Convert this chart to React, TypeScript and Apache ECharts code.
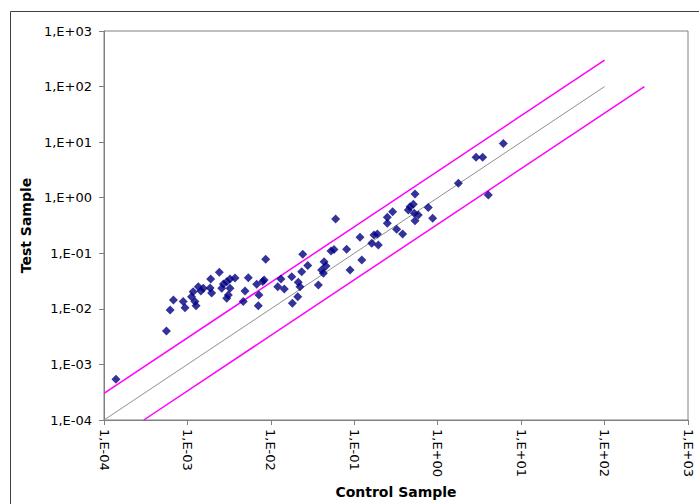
import React, { useEffect, useRef } from "react";
import * as echarts from "echarts";

// Scatter points: [Control Sample, Test Sample]
const controlValues: number[] = [
  1.39e-4, 5.6e-4, 6.2e-4, 6.8e-4, 8.9e-4, 9.35e-4, 1.12e-3, 1.17e-3, 1.23e-3, 1.27e-3,
  1.35e-3, 1.55e-3, 1.87e-3, 1.9e-3, 1.95e-3, 2.41e-3, 2.58e-3, 2.96e-3, 2.96e-3, 3.09e-3,
  3.24e-3, 3.24e-3, 4.67e-3, 4.9e-3, 5.37e-3, 3.72e-3, 6.76e-3, 7.2e-3, 7.07e-3, 8.3e-3,
  8.67e-3, 1.21e-2, 1.32e-2, 1.45e-2, 1.78e-2, 1.81e-2, 2.1e-2, 2.13e-2, 2.23e-2, 2.34e-2,
  2.41e-2, 2.77e-2, 3.71e-2, 4.34e-2, 4.58e-2, 4.06e-2, 4.26e-2, 5.98e-2, 5.26e-2, 5.71e-2,
  8.1e-2, 8.9e-2, 0.117, 0.123, 0.162, 0.194, 0.172, 0.189, 0.249, 0.249,
  0.288, 0.322, 0.38, 0.444, 0.466, 0.51, 0.523, 0.534, 0.585, 0.534,
  0.77, 0.87, 1.77, 2.88, 3.46, 4.04, 6.11, 2.7e-3, 8.0e-3, 1.45e-3,
];
const testValues: number[] = [
  5.4e-4, 4.0e-3, 9.5e-3, 1.44e-2, 1.35e-2, 1.05e-2, 1.66e-2, 2.04e-2, 1.35e-2, 1.14e-2,
  2.5e-2, 2.34e-2, 2.37e-2, 3.44e-2, 1.93e-2, 4.55e-2, 2.34e-2, 3.08e-2, 1.55e-2, 1.77e-2,
  3.44e-2, 2.34e-2, 1.35e-2, 2.1e-2, 3.64e-2, 3.59e-2, 2.77e-2, 1.77e-2, 1.14e-2, 3.3e-2,
  7.8e-2, 2.5e-2, 3.44e-2, 2.28e-2, 3.8e-2, 1.26e-2, 1.66e-2, 3.0e-2, 2.5e-2, 4.67e-2,
  9.6e-2, 6.0e-2, 2.69e-2, 7.05e-2, 5.9e-2, 5.0e-2, 4.37e-2, 0.414, 0.11, 0.117,
  0.118, 5.0e-2, 0.194, 7.6e-2, 0.151, 0.141, 0.213, 0.222, 0.444, 0.346,
  0.56, 0.27, 0.222, 0.6, 0.69, 0.76, 0.523, 1.17, 0.489, 0.385,
  0.67, 0.426, 1.82, 5.33, 5.33, 1.12, 9.5, 2.8e-2, 3.1e-2, 2.1e-2,
];

// Reference lines: y = x, y = 3x, y = x/3
const identityLine: number[][] = [[1e-4, 1e-4], [1e2, 1e2]];
const upperLine: number[][] = [[1e-4, 3e-4], [1e2, 3e2]];
const lowerLine: number[][] = [[3e-4, 1e-4], [3e2, 1e2]];

const axisMin = 1e-4;
const axisMax = 1e3;

const fmt = (v: number) => {
  const e = Math.round(Math.log10(v));
  return "1,E" + (e < 0 ? "-" : "+") + String(Math.abs(e)).padStart(2, "0");
};

export default function App() {
  const ref = useRef<HTMLDivElement>(null);
  useEffect(() => {
    if (!ref.current) return;
    const chart = echarts.init(ref.current, null, { renderer: "svg" });
    const points = controlValues.map((c, i) => [c, testValues[i]]);
    const labelStyle = {
      color: "#000",
      fontFamily: "DejaVu Sans",
      fontSize: 13,
      formatter: fmt,
    };
    chart.setOption({
      animation: false,
      backgroundColor: "#fff",
      grid: {
        left: 104,
        top: 31,
        right: 11,
        bottom: 84,
        show: true,
        borderColor: "#808080",
        borderWidth: 1,
        backgroundColor: "transparent",
      },
      graphic: [
        {
          type: "rect",
          shape: { x: 10.5, y: 11.5, width: 720, height: 520 },
          style: { fill: "none", stroke: "#404040", lineWidth: 1 },
          silent: true,
        },
      ],
      xAxis: {
        type: "log",
        logBase: 10,
        min: axisMin,
        max: axisMax,
        interval: 1,
        name: "Control Sample",
        nameLocation: "middle",
        nameGap: 58,
        nameTextStyle: { fontFamily: "DejaVu Sans", fontWeight: "bold", fontSize: 14, color: "#000" },
        axisLine: { show: true, lineStyle: { color: "#808080", width: 1 } },
        axisTick: { show: true, length: 5, lineStyle: { color: "#808080" } },
        minorTick: { show: false },
        splitLine: { show: false },
        axisLabel: { ...labelStyle, rotate: -90, margin: 9 },
      },
      yAxis: {
        type: "log",
        logBase: 10,
        min: axisMin,
        max: axisMax,
        interval: 1,
        name: "Test Sample",
        nameLocation: "middle",
        nameGap: 66,
        nameTextStyle: { fontFamily: "DejaVu Sans", fontWeight: "bold", fontSize: 14, color: "#000" },
        axisLine: { show: true, lineStyle: { color: "#808080", width: 1 } },
        axisTick: { show: true, length: 5, lineStyle: { color: "#808080" } },
        splitLine: { show: false },
        axisLabel: { ...labelStyle, margin: 12 },
      },
      series: [
        {
          type: "line",
          data: identityLine,
          symbol: "none",
          lineStyle: { color: "#909090", width: 1 },
          z: 1,
        },
        {
          type: "line",
          data: upperLine,
          symbol: "none",
          lineStyle: { color: "#FF00FF", width: 1.5 },
          z: 1,
        },
        {
          type: "line",
          data: lowerLine,
          symbol: "none",
          lineStyle: { color: "#FF00FF", width: 1.5 },
          z: 1,
        },
        {
          type: "scatter",
          data: points,
          symbol: "diamond",
          symbolSize: 9,
          itemStyle: { color: "#000080" },
          z: 3,
        },
      ],
    });
    return () => chart.dispose();
  }, []);
  return (
    <div
      ref={ref}
      style={{ position: "absolute", left: 0, top: 0, width: 699, height: 504 }}
    />
  );
}
